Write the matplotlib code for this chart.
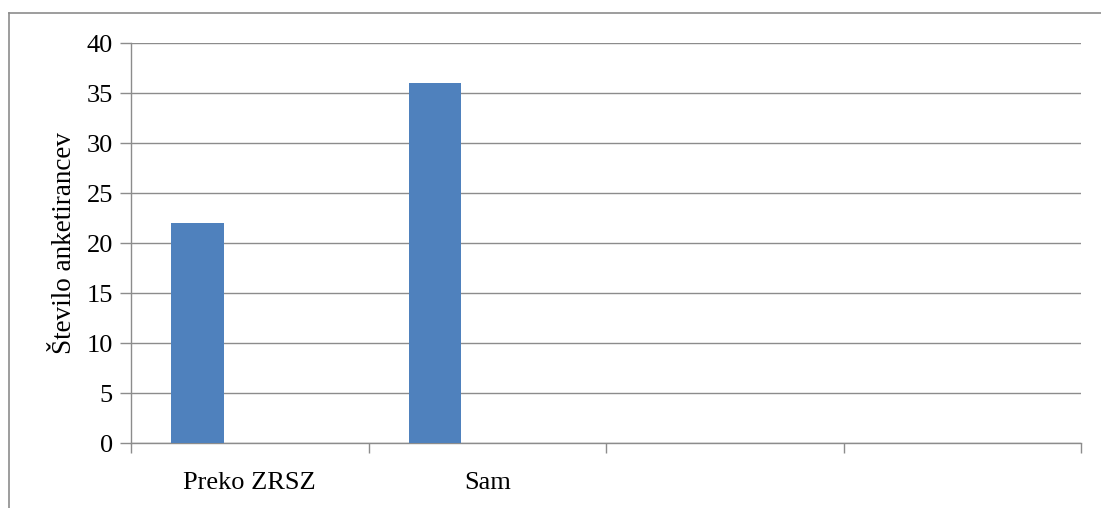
import matplotlib.pyplot as plt
from matplotlib.lines import Line2D

categories = ['Preko ZRSZ', 'Sam', '', '']
values = [22, 36, 0, 0]
yticks = [0, 5, 10, 15, 20, 25, 30, 35, 40]
ylabel = 'Število anketirancev'

plt.rcParams['font.family'] = ['Liberation Serif', 'DejaVu Serif']

W, H = 1101, 508
fig = plt.figure(figsize=(W / 100, H / 100), dpi=100)
ax = fig.add_axes([131 / W, 1 - 443 / H, (1081 - 131) / W, (443 - 43) / H])

grid_col = '#8c8c8c'
xs = range(len(categories))
ax.bar([x - 0.22 for x in xs], values, width=0.22, color='#4F81BD', zorder=3)

ax.set_xlim(-0.5, len(categories) - 0.5)
ax.set_ylim(0, 40)
ax.set_yticks(yticks)
ax.tick_params(axis='y', length=8, width=1, color=grid_col, labelsize=19, pad=5)
ax.yaxis.grid(True, color=grid_col, linewidth=1)
ax.set_axisbelow(True)

# category ticks on slot boundaries, labels centred in slots
ax.set_xticks([x - 0.5 for x in range(len(categories) + 1)])
ax.set_xticklabels([])
ax.set_xticks(list(xs), minor=True)
ax.set_xticklabels(categories, minor=True, fontsize=19)
ax.tick_params(axis='x', which='major', length=7, width=1, color=grid_col)
ax.tick_params(axis='x', which='minor', length=0, pad=21)

for s in ['top', 'right']:
    ax.spines[s].set_visible(False)
for s in ['left', 'bottom']:
    ax.spines[s].set_color(grid_col)
    ax.spines[s].set_linewidth(1)

ax.set_ylabel(ylabel, fontsize=19.5, labelpad=7)

# outer chart frame
fig.add_artist(Line2D([9 / W, 1], [1 - 13 / H, 1 - 13 / H], color=grid_col, linewidth=1.2))
fig.add_artist(Line2D([9 / W, 9 / W], [0, 1 - 13 / H], color=grid_col, linewidth=1.2))

fig.savefig('out.png', dpi=100)
